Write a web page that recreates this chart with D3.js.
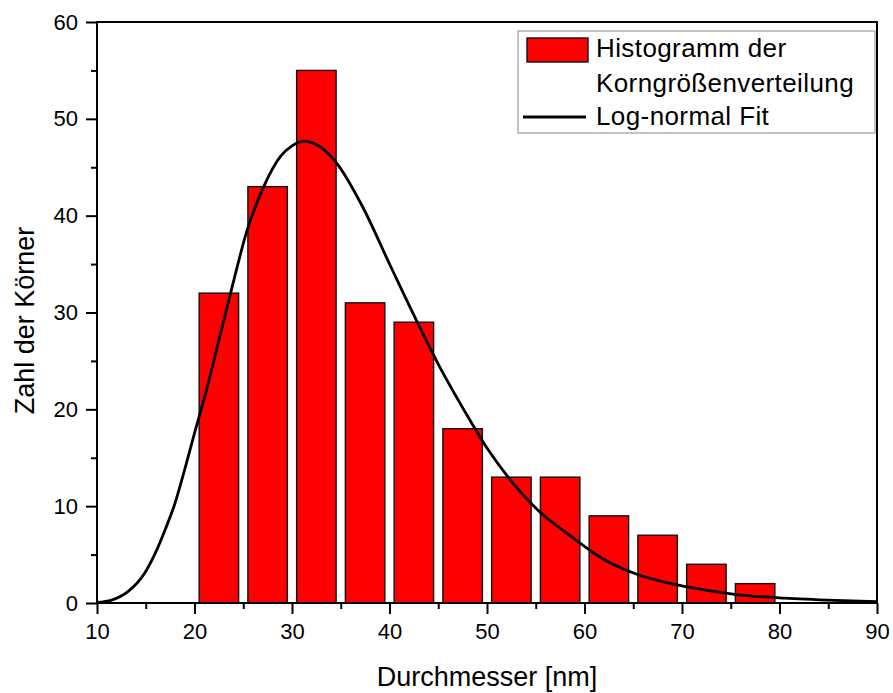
<!DOCTYPE html>
<html><head><meta charset="utf-8">
<script src="https://cdn.jsdelivr.net/npm/d3@7"></script>
<style>body{margin:0;background:#fff}svg{display:block}text{font-family:"Liberation Sans",Arial,sans-serif}</style>
</head><body>
<svg id="c" width="893" height="693"></svg>
<script>
const binCenters = [22.5, 27.5, 32.5, 37.5, 42.5, 47.5, 52.5, 57.5, 62.5, 67.5, 72.5, 77.5];
const counts = [32, 43, 55, 31, 29, 18, 13, 13, 9, 7, 4, 2];
const fitX = [10, 11.5, 13.2, 14.9, 16, 17, 18, 19, 20.1, 21.1, 22, 23.7, 25.4, 27.1, 28.8, 30, 31.2, 32.9, 34.6, 37.2, 40.1, 42.9, 45.3, 47.6, 50, 52.4, 55.2, 58.6, 62, 65.3, 68.9, 72, 75.4, 80.5, 85.7, 90];
const fitY = [0.05, 0.3, 1.2, 3.1, 5.2, 7.6, 10.3, 13.8, 17.9, 21.5, 25.1, 32.0, 38.5, 43.0, 46.1, 47.2, 47.7, 47.1, 45.4, 41.0, 34.8, 28.9, 24.1, 20.0, 16.0, 12.7, 9.6, 6.9, 4.5, 3.0, 2.0, 1.4, 0.9, 0.5, 0.27, 0.15];
const xTicks = [10, 20, 30, 40, 50, 60, 70, 80, 90];
const yTicks = [0, 10, 20, 30, 40, 50, 60];
const legendLabels = ["Histogramm der", "Korngrößenverteilung", "Log-normal Fit"];
const xTitle = "Durchmesser [nm]";
const yTitle = "Zahl der Körner";
const binWidth = 5, barFrac = 0.81;

const svg = d3.select("#c");
const L = 97, R = 877, T = 22, B = 603;
const x = d3.scaleLinear().domain([10, 90]).range([L, R]);
const y = d3.scaleLinear().domain([0, 60]).range([B, T]);

// bars
svg.append("g").selectAll("rect").data(binCenters).join("rect")
  .attr("x", (d) => x(d - binWidth * barFrac / 2))
  .attr("width", (d) => x(d + binWidth * barFrac / 2) - x(d - binWidth * barFrac / 2))
  .attr("y", (d, i) => y(counts[i]))
  .attr("height", (d, i) => y(0) - y(counts[i]))
  .attr("fill", "#ff0000").attr("stroke", "#111").attr("stroke-width", 1.4);

// fit line
const line = d3.line().x((d) => x(d[0])).y((d) => y(d[1])).curve(d3.curveMonotoneX);
svg.append("path").datum(fitX.map((v, i) => [v, fitY[i]]))
  .attr("d", line).attr("fill", "none").attr("stroke", "#000").attr("stroke-width", 2.8);

// frame
svg.append("rect").attr("x", L).attr("y", T).attr("width", R - L).attr("height", B - T)
  .attr("fill", "none").attr("stroke", "#000").attr("stroke-width", 2);

// axes
const xMinor = d3.range(15, 90, 10);
const yMinor = d3.range(5, 60, 10);
svg.append("g").attr("transform", `translate(0,${B})`)
  .call(d3.axisBottom(x).tickValues(xTicks).tickSize(11).tickPadding(9).tickFormat(d3.format("d")));
svg.append("g").attr("transform", `translate(0,${B})`)
  .call(d3.axisBottom(x).tickValues(xMinor).tickSize(6).tickFormat(""));
svg.append("g").attr("transform", `translate(${L},0)`)
  .call(d3.axisLeft(y).tickValues(yTicks).tickSize(11).tickPadding(8).tickFormat(d3.format("d")));
svg.append("g").attr("transform", `translate(${L},0)`)
  .call(d3.axisLeft(y).tickValues(yMinor).tickSize(6).tickFormat(""));
svg.selectAll(".domain").remove();
svg.selectAll(".tick line").attr("stroke", "#000").attr("stroke-width", 2);
svg.selectAll(".tick text").attr("font-size", 22).attr("fill", "#000")
  .attr("font-family", "'Liberation Sans',Arial,sans-serif");

// titles
svg.append("text").attr("x", 487).attr("y", 686).attr("text-anchor", "middle")
  .attr("font-size", 27).text(xTitle);
svg.append("text").attr("transform", `translate(34,${(T + B) / 2 + 8}) rotate(-90)`)
  .attr("text-anchor", "middle").attr("font-size", 27).text(yTitle);

// legend
const lg = svg.append("g");
lg.append("rect").attr("x", 518).attr("y", 31).attr("width", 357).attr("height", 102)
  .attr("fill", "#fff").attr("stroke", "#888").attr("stroke-width", 1);
lg.append("rect").attr("x", 527).attr("y", 38).attr("width", 61).attr("height", 24)
  .attr("fill", "#ff0000").attr("stroke", "#111").attr("stroke-width", 1.4);
lg.append("line").attr("x1", 523).attr("x2", 586).attr("y1", 117).attr("y2", 117)
  .attr("stroke", "#000").attr("stroke-width", 2.8);
const ly = [57, 92, 125];
legendLabels.forEach((t, i) => {
  lg.append("text").attr("x", 596).attr("y", ly[i]).attr("font-size", 26)
    .attr("letter-spacing", 0.4).text(t);
});
</script>
</body></html>
